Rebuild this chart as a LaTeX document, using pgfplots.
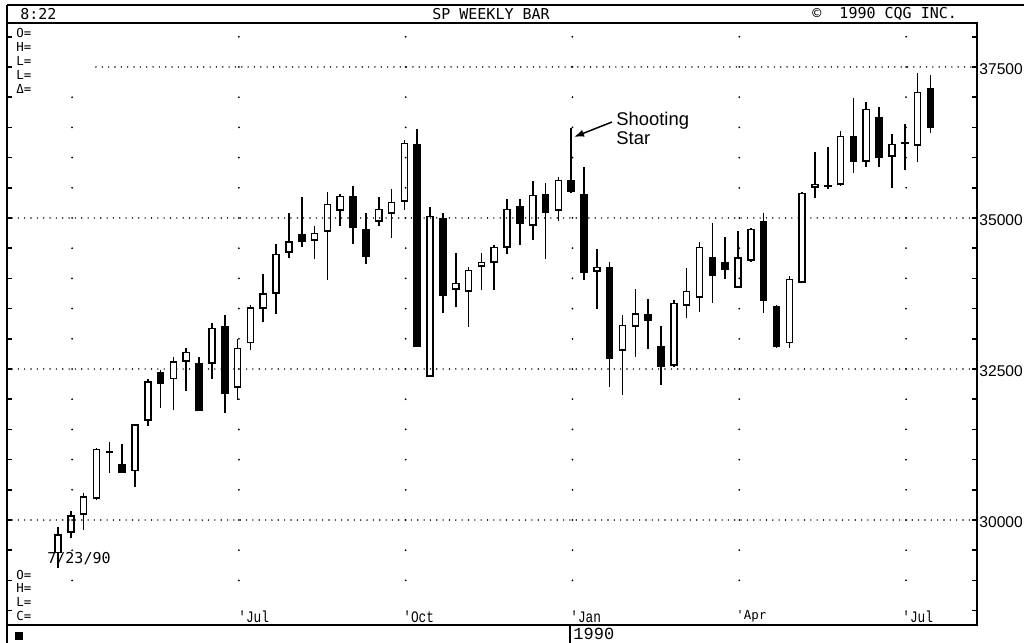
\documentclass[border=0pt]{standalone}
\usepackage{pgfplots}
\pgfplotsset{compat=1.18}
\usepackage{pgfplotstable}
\usetikzlibrary{arrows.meta}
\usepackage{fontspec}
\setmainfont{Liberation Sans}
\newfontfamily\dotfont{DejaVu Sans Mono}
\newfontfamily\typefont{Liberation Mono}

% weekly candles: index, open, high, low, close
\pgfplotstableread{
i o h l c
0 29452 29882 29203 29766
1 29785 30149 29702 30083
2 30083 30447 29834 30397
3 30348 31192 30331 31176
6 30811 31589 30547 31589
7 31639 32334 31556 32301
9 32334 32699 31821 32632
10 32616 32848 32136 32782
12 32583 33262 32334 33179
14 32186 32997 31987 32848
15 32930 33560 32815 33526
16 33493 34073 33278 33758
17 33742 34570 33411 34404
18 34421 35083 34338 34619
20 34619 34868 34321 34752
21 34768 35430 33974 35232
22 35116 35397 34868 35364
25 34934 35348 34868 35149
26 35066 35480 34669 35265
27 35265 36292 35132 36242
29 32368 35182 32368 35033
31 33808 34421 33526 33924
32 33775 34189 33195 34139
33 34189 34421 33808 34272
34 34255 34553 33808 34520
35 34503 35315 34404 35149
37 34868 35613 34636 35381
39 35116 35679 34950 35629
42 34106 34487 33493 34189
44 32798 33394 32070 33229
45 33195 33825 32699 33427
48 32550 33642 32533 33593
49 33543 34172 33344 33792
50 33676 34603 33444 34520
53 33841 34785 33841 34354
54 34288 34834 34272 34818
57 32930 34040 32848 33990
58 33924 35430 33924 35414
59 35497 36093 35331 35563
61 35546 36440 35530 36358
63 35927 36921 35844 36805
65 36010 36391 35497 36225
67 36192 37401 35927 37086
}\upcandles

\pgfplotstableread{
i o h l c
4 31146 31292 30778 31106
5 30927 31259 30778 30778
8 32450 32483 31854 32252
11 32599 32699 31805 31805
13 33212 33394 31772 32086
19 34735 35348 34520 34603
23 35364 35530 34570 34834
24 34818 35083 34238 34354
28 36225 36474 32864 32864
30 35000 35083 33427 33709
36 35199 35315 34553 34901
38 35397 35580 34321 35083
40 35629 36490 35414 35431
41 35397 35844 33974 34089
43 34189 34272 32202 32666
46 33411 33659 32831 33295
47 32881 33212 32235 32533
51 34354 34917 33593 34040
52 34272 34685 33990 34139
55 34950 35083 33427 33626
56 33543 33560 32848 32864
60 35550 36175 35480 35510
62 36358 36987 35745 35927
64 36672 36838 35844 35993
66 36258 36556 35795 36218
68 37152 37368 36407 36490
}\downcandles

\newcommand\hdrfont{\dotfont\fontsize{7.5pt}{8pt}\selectfont}
\newcommand\smallfont{\dotfont\fontsize{6.2pt}{7pt}\selectfont}

\tikzset{
  hdots/.style={line width=0.8pt, line cap=round, dash pattern=on 0pt off 3.17pt},
  vdots/.style={line width=1pt, line cap=round, dash pattern=on 0pt off 15.1014pt},
}
\pgfplotsset{
  bar line/.style 2 args={only marks, mark=text, text mark={}, forget plot,
    error bars/.cd, y dir=plus, y explicit, error mark=none,
    error bar style={line width=#1, #2}},
}

\begin{document}
\begin{tikzpicture}
\begin{axis}[
  at={(3.5pt,9pt)}, anchor=south west,
  scale only axis, width=485pt, height=301pt,
  xmin=-3.975, xmax=71.63, ymin=28262, ymax=38228,
  axis line style={line width=0.8pt, black},
  xtick=\empty,
  ytick={30000,32500,35000,37500},
  minor ytick={28500,29000,29500,30500,31000,31500,32000,33000,33500,34000,34500,35500,36000,36500,37000,38000},
  yticklabels={}, scaled y ticks=false,
  tick pos=both, tick align=inside,
  major tick length=2.6pt, minor tick length=2.6pt,
  tick style={line width=0.8pt, black},
]
% wicks
\addplot[bar line={0.8pt}{black}] table[x=i, y=l, y error expr=\thisrow{h}-\thisrow{l}] {\upcandles};
\addplot[bar line={0.8pt}{black}] table[x=i, y=l, y error expr=\thisrow{h}-\thisrow{l}] {\downcandles};
% bodies
\addplot[bar line={3.8pt}{black}] table[x=i, y=c, y error expr=\thisrow{o}-\thisrow{c}] {\downcandles};
\addplot[bar line={3.8pt}{black}] table[x=i, y=o, y error expr=\thisrow{c}-\thisrow{o}] {\upcandles};
\addplot[bar line={2.3pt}{white}]
  table[x=i, y expr=\thisrow{o}+25, y error expr=\thisrow{c}-\thisrow{o}-50] {\upcandles};
% dotted grid
\draw[hdots] (axis cs:2.96,37500) -- (axis cs:71.63,37500);
\draw[hdots] (axis cs:-3.585,35000) -- (axis cs:71.63,35000);
\draw[hdots] (axis cs:-3.585,32500) -- (axis cs:71.63,32500);
\draw[hdots] (axis cs:-3.585,30000) -- (axis cs:71.63,30000);
\pgfplotsinvokeforeach{14.1,27.1,40.1,53.1,66.1}{
  \draw[vdots] (axis cs:#1,29000) -- (axis cs:#1,38000);
}
\draw[vdots] (axis cs:1.1,29000) -- (axis cs:1.1,37000);
\end{axis}

\begin{scope}[x=0.5pt, y=-0.5pt, yshift=321.5pt]
  % frame pieces outside the axis
  \draw[line width=0.8pt] (7,5) -- (1024,5);
  \draw[line width=0.8pt] (7,5) -- (7,23);
  \draw[line width=0.8pt] (7,625) -- (7,643);
  \draw[line width=0.8pt] (570,625) -- (570,643);
  \fill (15,632) rectangle (23,640);
  % header
  \node[anchor=west, inner sep=0] at (20,14) {\hdrfont 8:22};
  \node[inner sep=0] at (491,14) {\hdrfont SP WEEKLY BAR};
  \node[anchor=west, inner sep=0] at (812,14) {\hdrfont ©\ \ 1990 CQG INC.};
  % quote fields
  \node[anchor=west, inner sep=0] at (16,33) {\smallfont O=};
  \node[anchor=west, inner sep=0] at (16,47) {\smallfont H=};
  \node[anchor=west, inner sep=0] at (16,61) {\smallfont L=};
  \node[anchor=west, inner sep=0] at (16,75) {\smallfont L=};
  \node[anchor=west, inner sep=0] at (16,89) {\smallfont Δ=};
  \node[anchor=west, inner sep=0] at (16,575) {\smallfont O=};
  \node[anchor=west, inner sep=0] at (16,588) {\smallfont H=};
  \node[anchor=west, inner sep=0] at (16,602) {\smallfont L=};
  \node[anchor=west, inner sep=0] at (16,616) {\smallfont C=};
  \node[anchor=west, inner sep=0] at (47,559) {\hdrfont 7/23/90};
  % months
  \node[anchor=west, inner sep=0, xscale=0.8] at (238,617) {\typefont\fontsize{8pt}{9pt}\selectfont\textquotesingle Jul};
  \node[anchor=west, inner sep=0, xscale=0.8] at (403,617) {\typefont\fontsize{8pt}{9pt}\selectfont\textquotesingle Oct};
  \node[anchor=west, inner sep=0, xscale=0.8] at (570,617) {\typefont\fontsize{8pt}{9pt}\selectfont\textquotesingle Jan};
  \node[anchor=west, inner sep=0] at (736,616) {\smallfont\textquotesingle Apr};
  \node[anchor=west, inner sep=0, xscale=0.8] at (902,617) {\typefont\fontsize{8pt}{9pt}\selectfont\textquotesingle Jul};
  \node[anchor=west, inner sep=0] at (573,634) {\typefont\fontsize{8.5pt}{9pt}\selectfont 1990};
  % price labels
  \node[anchor=west, inner sep=0] at (979,69) {\fontsize{7.8pt}{9pt}\selectfont 37500};
  \node[anchor=west, inner sep=0] at (979,220) {\fontsize{7.8pt}{9pt}\selectfont 35000};
  \node[anchor=west, inner sep=0] at (979,371) {\fontsize{7.8pt}{9pt}\selectfont 32500};
  \node[anchor=west, inner sep=0] at (979,522) {\fontsize{7.8pt}{9pt}\selectfont 30000};
  % annotation
  \node[anchor=base west, inner sep=0] at (616,126) {\fontsize{9.2pt}{10pt}\selectfont Shooting};
  \node[anchor=base west, inner sep=0] at (616,145) {\fontsize{9.2pt}{10pt}\selectfont Star};
  \draw[line width=0.75pt, -{Latex[length=5pt, width=3.6pt]}] (612,122) -- (574,137);
\end{scope}
\pgfresetboundingbox
\path[use as bounding box] (0,0) rectangle (512pt,321.5pt);
\end{tikzpicture}
\end{document}
